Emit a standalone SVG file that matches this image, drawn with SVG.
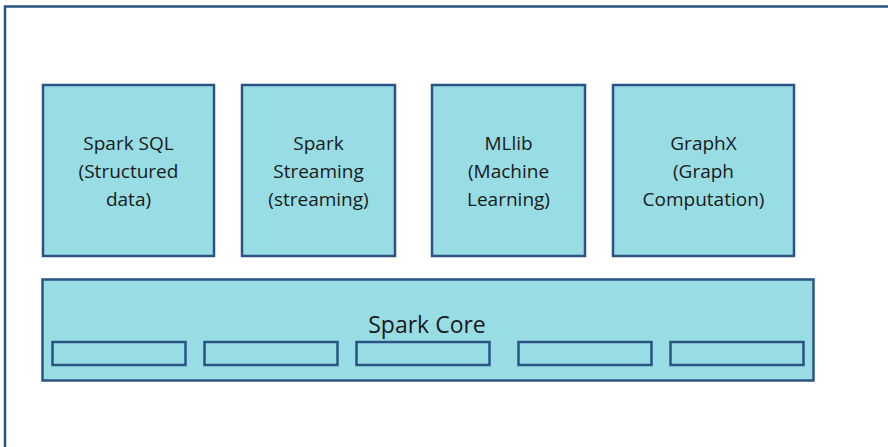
<svg xmlns="http://www.w3.org/2000/svg" width="888" height="447" viewBox="0 0 888 447">
<style>
.box{fill:#98dce4;stroke:#2b5383;stroke-width:2.5}
.slot{fill:#98dce4;stroke:#2b5383;stroke-width:2.5}
.frame{fill:#ffffff;stroke:#2b5383;stroke-width:2.5}
.t{font-family:"Open Sans","Noto Sans",sans-serif;font-size:19px;fill:#1a1a1a;text-anchor:middle}
.tc{font-family:"Open Sans","Noto Sans",sans-serif;font-size:23px;fill:#1a1a1a;text-anchor:middle}
</style>
<rect width="888" height="447" fill="#ffffff"/>
<rect class="frame" x="5" y="6.5" width="900" height="460"/>
<g id="spark-sql">
<rect class="box" x="43" y="85" width="171" height="171"/>
<text class="t" x="128.5" y="150">Spark SQL</text>
<text class="t" x="128.5" y="178">(Structured</text>
<text class="t" x="128.5" y="206">data)</text>
</g>
<g id="spark-streaming">
<rect class="box" x="242" y="85" width="153" height="171"/>
<text class="t" x="318.5" y="150">Spark</text>
<text class="t" x="318.5" y="178">Streaming</text>
<text class="t" x="318.5" y="206">(streaming)</text>
</g>
<g id="mllib">
<rect class="box" x="432" y="85" width="153" height="171"/>
<text class="t" x="508.5" y="150">MLlib</text>
<text class="t" x="508.5" y="178">(Machine</text>
<text class="t" x="508.5" y="206">Learning)</text>
</g>
<g id="graphx">
<rect class="box" x="613" y="85" width="181" height="171"/>
<text class="t" x="703.5" y="150">GraphX</text>
<text class="t" x="703.5" y="178">(Graph</text>
<text class="t" x="703.5" y="206">Computation)</text>
</g>
<g id="spark-core">
<rect class="box" x="42.5" y="279.5" width="771" height="101"/>
<text class="tc" x="427" y="333">Spark Core</text>
<rect class="slot" x="52.5" y="342" width="133" height="23"/>
<rect class="slot" x="204.5" y="342" width="133" height="23"/>
<rect class="slot" x="356.5" y="342" width="133" height="23"/>
<rect class="slot" x="518.5" y="342" width="133" height="23"/>
<rect class="slot" x="670.5" y="342" width="133" height="23"/>
</g>
<g id="connectors"></g>
</svg>
